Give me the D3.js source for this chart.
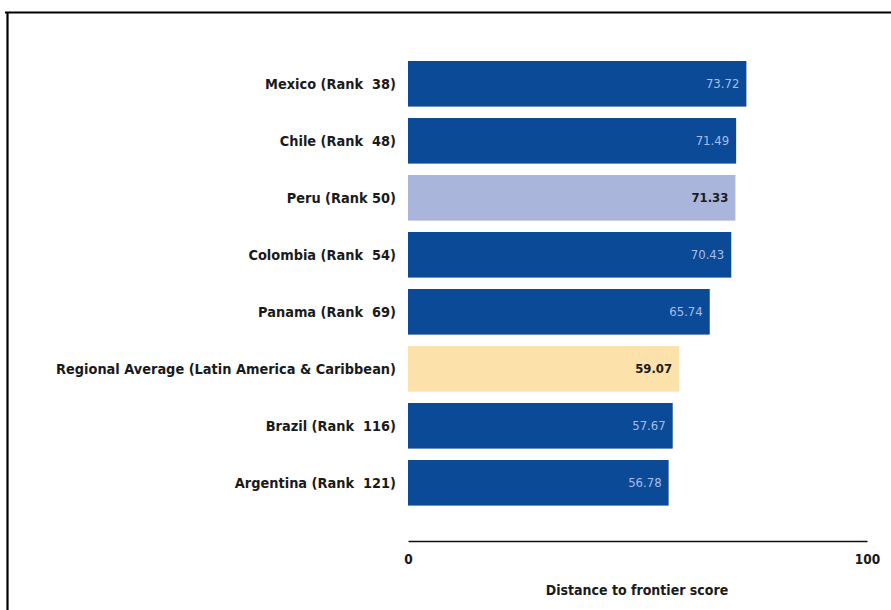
<!DOCTYPE html>
<html><head><meta charset="utf-8">
<script src="https://cdn.jsdelivr.net/npm/d3@7/dist/d3.min.js"></script>
<style>
html,body{margin:0;padding:0;background:#fff;}
svg{display:block;}
text{font-family:"DejaVu Sans Condensed","DejaVu Sans",sans-serif;font-stretch:condensed;white-space:pre;}
</style></head>
<body>
<svg id="chart" width="891" height="610"></svg>
<script>
const categories = ["Mexico (Rank  38)","Chile (Rank  48)","Peru (Rank 50)","Colombia (Rank  54)","Panama (Rank  69)","Regional Average (Latin America & Caribbean)","Brazil (Rank  116)","Argentina (Rank  121)"];
const values = [73.72, 71.49, 71.33, 70.43, 65.74, 59.07, 57.67, 56.78];
const kinds = ["country","country","focus","country","country","average","country","country"];
const xTicks = [0, 100];
const axisTitle = "Distance to frontier score";

const fills = {country:"#0b4a97", focus:"#aab5dc", average:"#fde1aa"};
const textFills = {country:"#a9bde6", focus:"#1c1c1c", average:"#1c1c1c"};

const svg = d3.select("#chart");
// frame
svg.append("line").attr("x1",5).attr("x2",891).attr("y1",12.5).attr("y2",12.5).attr("stroke","#000").attr("stroke-width",2.2);
svg.append("line").attr("x1",7.5).attr("x2",7.5).attr("y1",12).attr("y2",610).attr("stroke","#000").attr("stroke-width",2.2);

const x = d3.scaleLinear().domain([0,100]).range([408,867]);
const y = d3.scaleBand().domain(categories).range([55.3,511.3]).paddingInner(0.2).paddingOuter(0.1);

const data = categories.map((c,i)=>({c, v:values[i], k:kinds[i]}));

svg.selectAll("rect.bar").data(data).join("rect").attr("class","bar")
  .attr("x", x(0)).attr("y", d=>y(d.c))
  .attr("width", d=>x(d.v)-x(0)).attr("height", y.bandwidth())
  .attr("fill", d=>fills[d.k]);

svg.selectAll("text.val").data(data).join("text").attr("class","val")
  .attr("x", d=>x(d.v)-7).attr("y", d=>y(d.c)+y.bandwidth()/2)
  .attr("dy","0.35em").attr("text-anchor","end")
  .attr("font-size","13px").attr("font-weight", d=>d.k==="country"?"normal":"bold")
  .attr("fill", d=>textFills[d.k]).text(d=>d.v.toFixed(2));

svg.selectAll("text.cat").data(data).join("text").attr("class","cat")
  .attr("x", 396).attr("y", d=>y(d.c)+y.bandwidth()/2)
  .attr("dy","0.35em").attr("text-anchor","end")
  .attr("font-size","14.4px").attr("font-weight","bold").attr("fill","#1a1a1a")
  .text(d=>d.c);

const axis = d3.axisBottom(x).tickValues(xTicks).tickSize(0).tickPadding(13).tickFormat(d3.format("d"));
const ag = svg.append("g").attr("transform","translate(0,541)").call(axis);
ag.select(".domain").attr("stroke","#111").attr("stroke-width",1.5);
ag.selectAll("text").attr("font-size","13.5px").attr("font-weight","bold").attr("fill","#1a1a1a")
  .style("font-family",'"DejaVu Sans Condensed","DejaVu Sans",sans-serif');

svg.append("text").attr("x",637).attr("y",590).attr("dy","0.35em").attr("text-anchor","middle")
  .attr("font-size","14px").attr("font-weight","bold").attr("fill","#1a1a1a").text(axisTitle);
</script>
</body></html>
